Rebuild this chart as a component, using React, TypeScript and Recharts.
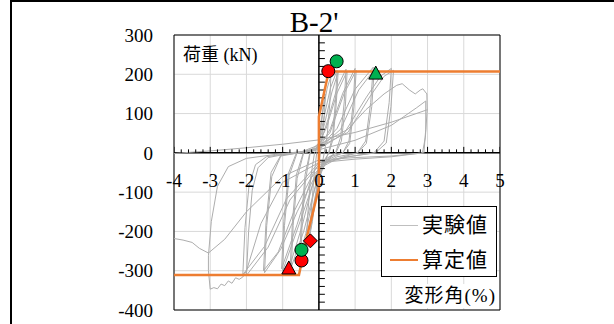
import React from 'react';
import { ScatterChart, Scatter, XAxis, YAxis, CartesianGrid, ReferenceLine, ReferenceArea } from 'recharts';

type Pt = { x: number; y: number };
const pts = (arr: number[][]): Pt[] => arr.map(([x, y]) => ({ x, y }));

// axis ticks
const X_TICKS = [-4, -3, -2, -1, 0, 1, 2, 3, 4, 5];
const Y_TICKS = [-400, -300, -200, -100, 0, 100, 200, 300];
const X_MINOR = [
  -3.8, -3.6, -3.4, -3.2, -2.8, -2.6, -2.4, -2.2, -1.8, -1.6, -1.4, -1.2, -0.8, -0.6, -0.4, -0.2,
  0.2, 0.4, 0.6, 0.8, 1.2, 1.4, 1.6, 1.8, 2.2, 2.4, 2.6, 2.8, 3.2, 3.4, 3.6, 3.8, 4.2, 4.4, 4.6, 4.8,
];
const Y_MINOR = [
  -380, -360, -340, -320, -300, -280, -260, -240, -220, -200, -180, -160, -140, -120, -100, -80, -60, -40, -20,
  20, 40, 60, 80, 100, 120, 140, 160, 180, 200, 220, 240, 260, 280,
];

// 実験値 (hysteresis)
const cycle01 = [[0,0],[0.05,70],[0.12,120],[0.18,150],[0.15,95],[0.09,35],[0.04,0],[-0.03,-50],[-0.1,-120],[-0.18,-175],[-0.24,-205],[-0.2,-135],[-0.13,-55],[-0.06,0]];
const cycle02 = [[-0.06,0],[0.02,40],[0.12,110],[0.23,165],[0.33,195],[0.3,125],[0.23,45],[0.15,0],[0.05,-45],[-0.1,-125],[-0.23,-195],[-0.35,-240],[-0.31,-160],[-0.23,-65],[-0.12,0]];
const cycle03 = [[-0.12,0],[0,25],[0.15,95],[0.32,165],[0.5,210],[0.46,135],[0.38,45],[0.27,0],[0.1,-35],[-0.1,-110],[-0.3,-200],[-0.5,-268],[-0.46,-175],[-0.37,-70],[-0.24,0]];
const cycle04 = [[-0.24,0],[-0.05,12],[0.16,75],[0.36,155],[0.53,205],[0.48,125],[0.39,35],[0.28,0],[0.08,-28],[-0.15,-105],[-0.36,-205],[-0.53,-260],[-0.48,-165],[-0.38,-55],[-0.25,0]];
const cycle05 = [[-0.25,0],[0,12],[0.25,85],[0.5,165],[0.75,213],[0.7,130],[0.6,40],[0.46,0],[0.2,-22],[-0.1,-85],[-0.42,-200],[-0.76,-290],[-0.71,-185],[-0.6,-65],[-0.42,0]];
const cycle06 = [[-0.42,0],[-0.1,8],[0.2,62],[0.5,152],[0.78,208],[0.73,118],[0.62,30],[0.47,0],[0.18,-16],[-0.15,-72],[-0.46,-185],[-0.79,-284],[-0.73,-175],[-0.62,-55],[-0.43,0]];
const cycle07 = [[-0.43,0],[0,10],[0.32,62],[0.66,152],[1.0,215],[0.95,128],[0.83,30],[0.66,0],[0.3,-15],[-0.1,-62],[-0.52,-175],[-1.0,-300],[-0.95,-185],[-0.82,-58],[-0.6,0]];
const cycle08 = [[-0.6,0],[-0.2,8],[0.3,50],[0.7,152],[1.03,210],[0.97,118],[0.85,24],[0.66,0],[0.3,-10],[-0.2,-62],[-0.6,-182],[-1.03,-295],[-0.97,-175],[-0.84,-52],[-0.62,0]];
const cycle09 = [[-0.62,0],[0,12],[0.5,62],[1.0,162],[1.5,218],[1.43,128],[1.29,30],[1.06,0],[0.5,-15],[0,-40],[-0.6,-150],[-1.05,-245],[-1.5,-305],[-1.44,-185],[-1.3,-60],[-1.05,-8],[-0.55,0]];
const cycle10 = [[-0.55,0],[0,10],[0.6,60],[1.1,160],[1.53,212],[1.46,118],[1.31,24],[1.07,0],[0.5,-10],[-0.1,-42],[-0.7,-152],[-1.12,-252],[-1.53,-300],[-1.46,-178],[-1.32,-50],[-1.05,-6],[-0.55,0]];
const cycle11 = [[-0.55,0],[0,10],[0.7,50],[1.3,140],[1.7,195],[2.0,215],[1.94,128],[1.8,30],[1.52,0],[0.8,-10],[0,-30],[-0.8,-120],[-1.4,-240],[-2.0,-312],[-1.94,-200],[-1.84,-95],[-1.68,-38],[-1.4,-12],[-0.9,-3],[-0.5,0]];
const cycle12 = [[-0.5,0],[0,15],[0.8,52],[1.4,142],[1.8,195],[2.06,210],[1.99,118],[1.86,25],[1.56,0],[0.8,-10],[0,-25],[-0.9,-118],[-1.5,-238],[-2.1,-310],[-2.04,-190],[-1.93,-85],[-1.75,-30],[-1.45,-10],[-0.9,-2],[-0.5,2]];
const cycle13 = [[-0.5,2],[0,20],[0.8,60],[1.3,110],[1.8,150],[2.15,172],[2.3,176],[2.5,160],[2.66,150],[2.8,160],[2.87,163],[2.98,150],[2.99,110],[2.94,40],[2.86,0],[2.0,-10],[1.0,-16],[0,-25],[-1.0,-75],[-1.6,-180],[-2.0,-300],[-2.1,-316],[-2.2,-322],[-2.3,-318],[-2.4,-332],[-2.5,-326],[-2.6,-338],[-2.7,-334],[-2.8,-346],[-2.9,-343],[-3.0,-347],[-3.05,-300],[-3.05,-262],[-2.97,-175],[-2.8,-85],[-2.5,-35],[-2.0,-14],[-1.2,-4],[0,8]];
const cycle14 = [[0,8],[1.0,32],[2.0,70],[2.7,115],[2.95,132],[2.95,60],[2.9,0],[2.0,-8],[1.0,-12],[0,-18],[-1.0,-60],[-2.0,-150],[-2.6,-220],[-3.05,-255],[-3.3,-243],[-3.5,-228],[-3.75,-222],[-4.0,-218],[-4.3,-225]];
const cycle15 = [[-4.3,-225],[-4.3,-20],[-4.1,-2],[-3,5],[-2,13],[-1,22],[0,33],[1,52],[2,78],[3,110]];
const TEST_CYCLES = [cycle01, cycle02, cycle03, cycle04, cycle05, cycle06, cycle07, cycle08, cycle09, cycle10, cycle11, cycle12, cycle13, cycle14, cycle15];

// 算定値
const calcPos = [[0,0],[0,92],[0.27,207],[5,207]];
const calcNeg = [[0,0],[0,-90],[-0.33,-213],[-0.55,-311],[-4,-311]];

// markers
const redCircles = [[0.26,208],[-0.48,-274]];
const greenCircles = [[0.49,233],[-0.48,-247]];
const greenTriangles = [[1.57,203]];
const redTriangles = [[-0.83,-293]];
const redDiamonds = [[-0.235,-224]];

const W = 614;
const H = 324;
const X_AXIS_H = 14;
const M = { top: 35, right: 114, bottom: 0, left: 0 };
const Y_AXIS_W = 174;
const X_MIN = -4, X_MAX = 5, Y_MIN = -400, Y_MAX = 300;
const PLOT_H = H - M.top - M.bottom - X_AXIS_H;
const ZERO_Y = M.top + (PLOT_H * Y_MAX) / (Y_MAX - Y_MIN);

const SERIF = "'Liberation Serif', 'Times New Roman', 'Noto Sans CJK JP', serif";
const CJK = "'Liberation Serif', 'Noto Sans CJK JP', sans-serif";
const GRAY = '#adadad';
const ORANGE = '#ED7D31';
const RED = '#FF0000';
const GREEN = '#00B050';

const none = () => <g />;

// x labels sit just under the zero line, as in the original
const xTick = (props: any) => (
  <text x={props.x} y={ZERO_Y + 34} textAnchor="middle" fontSize={19} fontFamily={SERIF} fill="#000">
    {props.payload.value}
  </text>
);

const circleShape = (fill: string) => (p: any) => (
  <circle cx={p.cx} cy={p.cy} r={6.5} fill={fill} stroke="#000" strokeWidth={1} />
);
const triangleShape = (fill: string) => (p: any) => (
  <polygon
    points={`${p.cx},${p.cy - 7} ${p.cx + 7},${p.cy + 6} ${p.cx - 7},${p.cy + 6}`}
    fill={fill}
    stroke="#000"
    strokeWidth={1}
  />
);
const diamondShape = (fill: string) => (p: any) => (
  <polygon
    points={`${p.cx},${p.cy - 7} ${p.cx + 7},${p.cy} ${p.cx},${p.cy + 7} ${p.cx - 7},${p.cy}`}
    fill={fill}
    stroke="#000"
    strokeWidth={1}
  />
);
const xTickMark = (len: number) => (p: any) => (
  <line x1={p.cx} y1={p.cy} x2={p.cx} y2={p.cy - len} stroke="#000" strokeWidth={1} />
);
const yTickMark = (p: any) => <line x1={p.cx} y1={p.cy} x2={p.cx + 6} y2={p.cy} stroke="#000" strokeWidth={1} />;

export default function App() {
  return (
    <div style={{ position: 'fixed', left: 0, top: 0, width: W, height: H, background: '#fff', overflow: 'hidden' }}>
      {/* outer frame (top + left only) */}
      <div
        style={{
          position: 'absolute',
          left: 10,
          top: 0,
          width: W - 10,
          height: H,
          borderTop: '2px solid #000',
          borderLeft: '2px solid #000',
          boxSizing: 'border-box',
        }}
      />
      <div style={{ position: 'absolute', left: 0, top: 0 }}>
        <ScatterChart width={W} height={H} margin={M}>
          <CartesianGrid stroke="#d9d9d9" strokeWidth={1} />
          <XAxis
            type="number"
            dataKey="x"
            domain={[X_MIN, X_MAX]}
            ticks={X_TICKS}
            interval={0}
            allowDataOverflow
            height={X_AXIS_H}
            axisLine={false}
            tickLine={false}
            tick={xTick}
          />
          <YAxis
            type="number"
            dataKey="y"
            domain={[Y_MIN, Y_MAX]}
            ticks={Y_TICKS}
            interval={0}
            allowDataOverflow
            width={Y_AXIS_W}
            axisLine={false}
            tickLine={false}
            tickSize={0}
            tickMargin={21}
            tick={{ fill: '#000', fontSize: 19, fontFamily: SERIF }}
          />
          <ReferenceArea x1={X_MIN} x2={X_MAX} y1={Y_MIN} y2={Y_MAX} fill="none" stroke="#000" strokeWidth={1} />
          {TEST_CYCLES.map((c, i) => (
            <Scatter
              key={`cyc-${i}`}
              data={pts(c)}
              line={{ stroke: GRAY, strokeWidth: 1 }}
              shape={none}
              isAnimationActive={false}
            />
          ))}
          <ReferenceLine x={0} stroke="#000" strokeWidth={1.5} />
          <ReferenceLine y={0} stroke="#000" strokeWidth={1.5} />
          <Scatter data={pts(X_MINOR.map((v) => [v, 0]))} shape={xTickMark(3.5)} isAnimationActive={false} />
          <Scatter data={pts(X_TICKS.map((v) => [v, 0]))} shape={xTickMark(6)} isAnimationActive={false} />
          <Scatter data={pts(Y_MINOR.map((v) => [0, v]))} shape={yTickMark} isAnimationActive={false} />
          <Scatter data={pts(calcPos)} line={{ stroke: ORANGE, strokeWidth: 2.5 }} shape={none} isAnimationActive={false} />
          <Scatter data={pts(calcNeg)} line={{ stroke: ORANGE, strokeWidth: 2.5 }} shape={none} isAnimationActive={false} />
          <Scatter data={pts(redCircles)} shape={circleShape(RED)} isAnimationActive={false} />
          <Scatter data={pts(greenCircles)} shape={circleShape(GREEN)} isAnimationActive={false} />
          <Scatter data={pts(greenTriangles)} shape={triangleShape(GREEN)} isAnimationActive={false} />
          <Scatter data={pts(redTriangles)} shape={triangleShape(RED)} isAnimationActive={false} />
          <Scatter data={pts(redDiamonds)} shape={diamondShape(RED)} isAnimationActive={false} />
        </ScatterChart>
      </div>

      {/* title */}
      <div
        style={{
          position: 'absolute',
          left: 214,
          width: 200,
          top: 6,
          textAlign: 'center',
          fontFamily: SERIF,
          fontSize: 29,
          lineHeight: '32px',
        }}
      >
        B-2'
      </div>

      {/* axis titles */}
      <div style={{ position: 'absolute', left: 183, top: 43, fontFamily: CJK, fontSize: 18, lineHeight: '24px' }}>
        荷重 (kN)
      </div>
      <div
        style={{
          position: 'absolute',
          right: W - 496,
          top: 284,
          fontFamily: CJK,
          fontSize: 19,
          lineHeight: '24px',
          letterSpacing: 1,
          background: '#fff',
        }}
      >
        変形角(%)
      </div>

      {/* legend */}
      <div
        style={{
          position: 'absolute',
          left: 381,
          top: 206,
          width: 116,
          height: 71,
          border: '1px solid #000',
          background: '#fff',
          boxSizing: 'border-box',
          fontFamily: CJK,
          fontSize: 21,
        }}
      >
        {[
          { name: '実験値', color: '#bfbfbf', w: 1.5, top: 4 },
          { name: '算定値', color: ORANGE, w: 2.5, top: 39 },
        ].map((it) => (
          <div key={it.name} style={{ position: 'absolute', left: 8, top: it.top, height: 28, display: 'flex', alignItems: 'center' }}>
            <div style={{ width: 28, height: 0, borderTop: `${it.w}px solid ${it.color}` }} />
            <span style={{ marginLeft: 4, letterSpacing: 1, lineHeight: '28px' }}>{it.name}</span>
          </div>
        ))}
      </div>
    </div>
  );
}
